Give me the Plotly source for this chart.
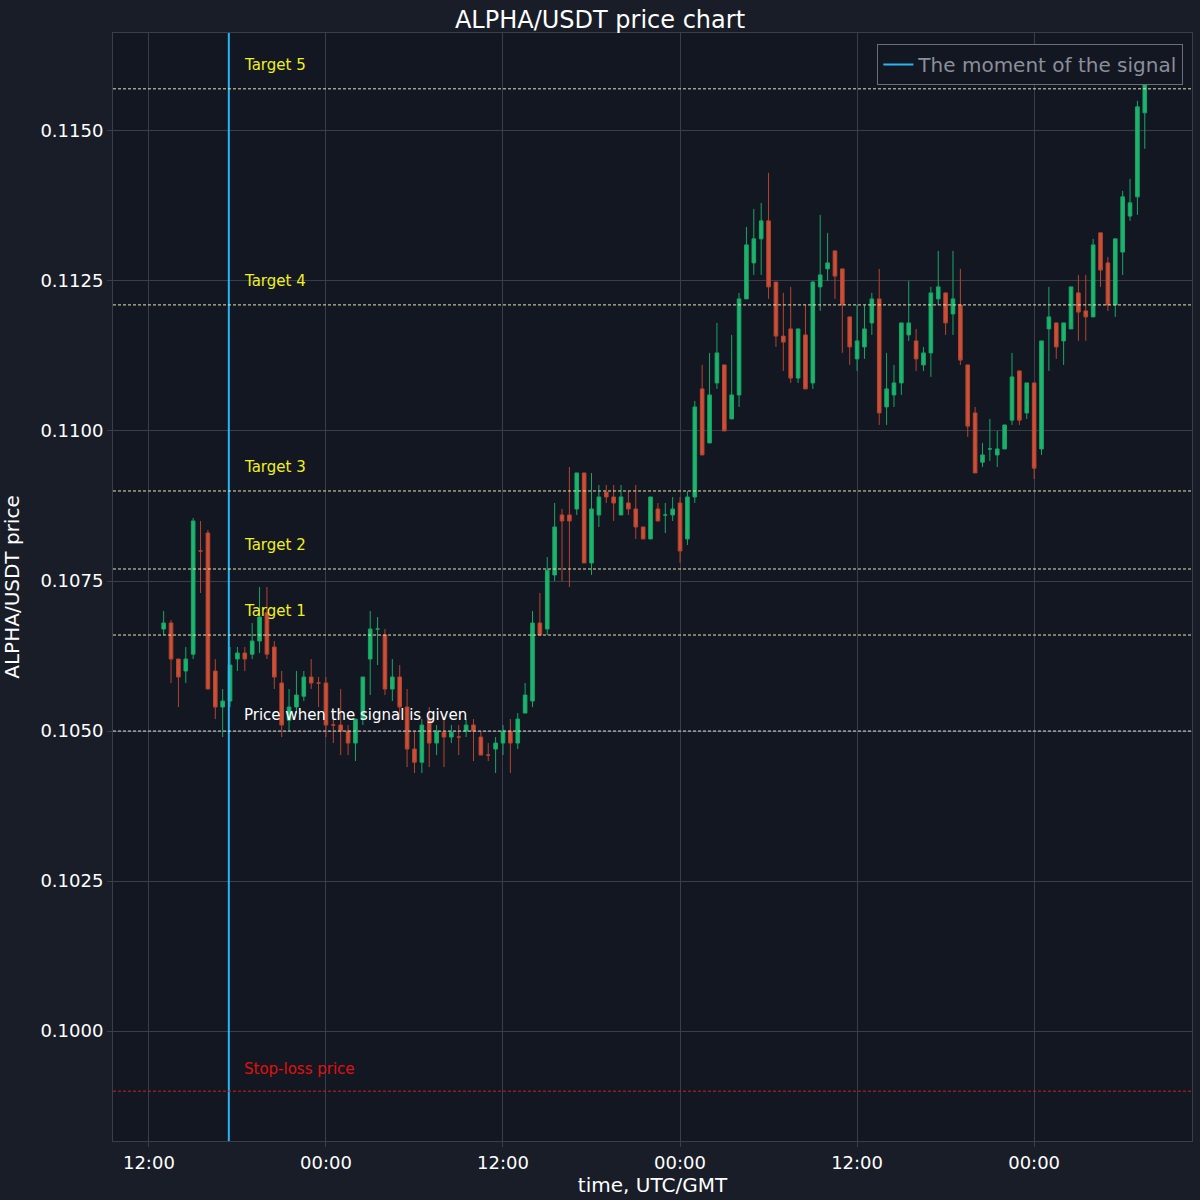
import plotly.graph_objects as go
import pandas as pd

times = pd.date_range("2024-01-01 13:00", periods=134, freq="30min")

opens = [1067,1068,1062,1060,1062.8,1080,1083,1060,1054,1055,1062,1063,1062.8,1065,1069.7,1064,1058,1051.8,1054,1055.8,
         1059,1058,1058,1051,1051,1050,1048,1052,1062,1067,1066,1057,1059,1054,1047,1044.8,1052,1048,1049.8,1049,
         1049,1050,1051,1049,1046,1047,1048,1050,1048,1053,1055,1068,1067,1076,1086,1086,1087,1093,1078,1086,
         1089.8,1089,1086,1088,1087,1084,1082,1087,1086,1086,1088,1082,1089,1107,1098,1108,1111,1102,1106,1122,
         1128,1132,1135,1124.8,1115.8,1117,1108.8,1116,1108,1124,1127,1130,1127,1119,1112,1114,1118,1122,1104,1106,
         1108,1116,1115,1111,1113,1122,1123,1119.5,1121,1111,1103,1094.8,1097,1096,1097,1101.8,1110,1103,1108,1097,
         1117,1118,1115,1117,1123,1120,1119,1133,1128,1121,1129.8,1135.8,1139,1153]
closes = [1068,1062,1059,1062,1085,1080,1057,1054,1055,1061,1063,1062,1065,1069,1062.8,1059,1051,1054,1056,1059,
          1058,1058,1051,1051,1050,1048,1052,1059,1067,1067,1057,1059,1054,1047,1044.8,1051,1048,1050,1049,1049.8,
          1049,1051,1050,1046,1046,1048,1050,1048,1052,1056,1068,1066,1076.8,1084,1085,1085,1093,1078,1087,1089,
          1089,1088,1089,1087,1084,1082,1089,1085,1086,1087,1080,1089,1104,1096,1106,1113,1100,1106,1122,1131,
          1132,1135,1124,1115.8,1114.8,1108.8,1117,1107,1124.8,1126,1128,1125.8,1121,1114,1115,1117,1122,1103,1107,1108,
          1118,1118,1112,1113,1123,1124,1118,1122,1111.8,1100.8,1093,1096,1097,1097,1101,1109,1101.8,1108,1093.8,1115,
          1119,1114,1118,1124,1119.8,1119,1131,1126.8,1121,1132,1139,1138,1154,1158]
highs = [1070,1068.5,1062,1064,1085.5,1085,1083.5,1062,1057,1064,1064,1064,1068,1074,1074,1065,1060,1057,1060,1060,
         1062,1059,1059,1053,1057,1051,1052,1059,1070,1069,1067,1062,1061,1057,1050,1052,1054,1051,1052,1051,
         1051,1052,1052,1050,1048,1049,1051,1052,1053,1058,1070,1073,1079,1088,1087,1094,1093,1093,1093,1091,
         1091,1091,1091,1090,1091,1084,1089,1088,1088,1089,1089,1090,1105,1111,1113,1118,1111,1116,1123,1134,
         1137,1138,1143,1124.8,1123,1124,1117,1121,1125,1136,1133,1130,1127,1119,1121,1121,1123,1127,1113,1111,
         1118,1125,1117,1114,1124,1130,1123,1130,1127,1111,1104,1098,1102,1100,1101,1113,1110,1105,1108,1115,
         1124,1118,1118,1124,1126,1126,1132,1133,1129,1132,1140,1142,1155,1158]
lows = [1066,1058,1054,1058,1062,1073,1057,1052,1049,1054,1060,1060,1062,1063,1062,1057,1049,1050,1053,1055,
        1057,1054,1049,1048,1046,1046,1045,1051,1056,1061,1056,1055,1052,1044,1043,1043,1044,1046,1044,1048,
        1046,1049,1045,1046,1045,1043,1046,1043,1047,1053,1054,1066,1066,1075,1075,1074,1086,1078,1076,1084,
        1088,1085,1086,1086,1082,1082,1082,1085,1083,1085,1078,1081,1088,1096,1098,1107,1100,1105,1104,1122,
        1126,1126,1122,1114,1110,1108,1108,1107,1107,1120,1125,1122,1113,1111,1110,1112,1116,1101,1101,1104,
        1106,1115,1110,1110,1109,1121,1116,1116,1111,1099,1093,1094,1095,1094,1099,1101,1101,1102,1092,1096,
        1110,1112,1111,1118,1115,1115,1119,1124,1120,1119,1126,1135,1136,1147]

scale = 1e-4
o = [v*scale for v in opens]; c = [v*scale for v in closes]
h = [v*scale for v in highs]; l = [v*scale for v in lows]

signal_time = "2024-01-01 17:25"
signal_price = 0.1050
targets = [0.1066, 0.1077, 0.1090, 0.1121, 0.1157]
stop_loss = 0.0990

fig = go.Figure()
fig.add_trace(go.Candlestick(x=times, open=o, high=h, low=l, close=c,
    increasing=dict(line=dict(color="#17a766", width=1), fillcolor="#1db56d"),
    decreasing=dict(line=dict(color="#b5452f", width=1), fillcolor="#cc5038"),
    showlegend=False, whiskerwidth=0))
fig.add_trace(go.Scatter(x=[signal_time, signal_time], y=[0.0970, 0.1180], mode="lines",
    line=dict(color="#29b6f6", width=2), name="The moment of the signal"))

dash = "3px,2px"
label_x = "2024-01-01 18:20"
for i, t in enumerate(targets):
    fig.add_hline(y=t, line=dict(color="#e6e4b0", width=1, dash=dash))
    fig.add_annotation(x=label_x, y=t, text=f"Target {i+1}", showarrow=False, xanchor="left",
                       yshift=24, font=dict(color="#f0f020", size=15))
fig.add_hline(y=signal_price, line=dict(color="#dddddd", width=1, dash=dash))
fig.add_annotation(x=label_x, y=signal_price, text="Price when the signal is given", showarrow=False,
                   xanchor="left", yshift=16, font=dict(color="white", size=15))
fig.add_hline(y=stop_loss, line=dict(color="#d02020", width=1, dash=dash))
fig.add_annotation(x=label_x, y=stop_loss, text="Stop-loss price", showarrow=False,
                   xanchor="left", yshift=22, font=dict(color="#e01010", size=15))

fig.update_layout(
    width=1200, height=1200,
    paper_bgcolor="#191d28", plot_bgcolor="#131722",
    margin=dict(l=113, r=8, t=33, b=59),
    title=dict(text="ALPHA/USDT price chart", x=0.5, xanchor="center", y=0.984, yanchor="middle",
               font=dict(size=24, color="white", family="DejaVu Sans")),
    font=dict(family="DejaVu Sans", color="white", size=18),
    legend=dict(x=0.992, y=0.99, xanchor="right", yanchor="top", bgcolor="#131722",
                bordercolor="#6a6e78", borderwidth=1, font=dict(size=20, color="#8a8f99")),
    xaxis=dict(range=["2024-01-01 09:34", "2024-01-04 10:42"], rangeslider=dict(visible=False),
               dtick=12*3600*1000, tick0="2024-01-01 00:00", tickformat="%H:%M",
               gridcolor="#3a3e4a", showline=True, linecolor="#3a3e4a", mirror=True,
               title=dict(text="time, UTC/GMT", font=dict(size=20), standoff=2),
               ticks="outside", ticklen=5, tickcolor="#3a3e4a"),
    yaxis=dict(range=[0.09817, 0.11663], dtick=0.0025, tick0=0.1, tickformat=".4f",
               gridcolor="#3a3e4a", showline=True, linecolor="#3a3e4a", mirror=True, zeroline=False,
               title=dict(text="ALPHA/USDT price", font=dict(size=20)), ticks="outside", ticklen=5, tickcolor="#3a3e4a"),
)
fig.write_html("out.html", config={"displayModeBar": False},
               post_script="document.body.style.margin='0';document.body.style.background='#191d28';")
